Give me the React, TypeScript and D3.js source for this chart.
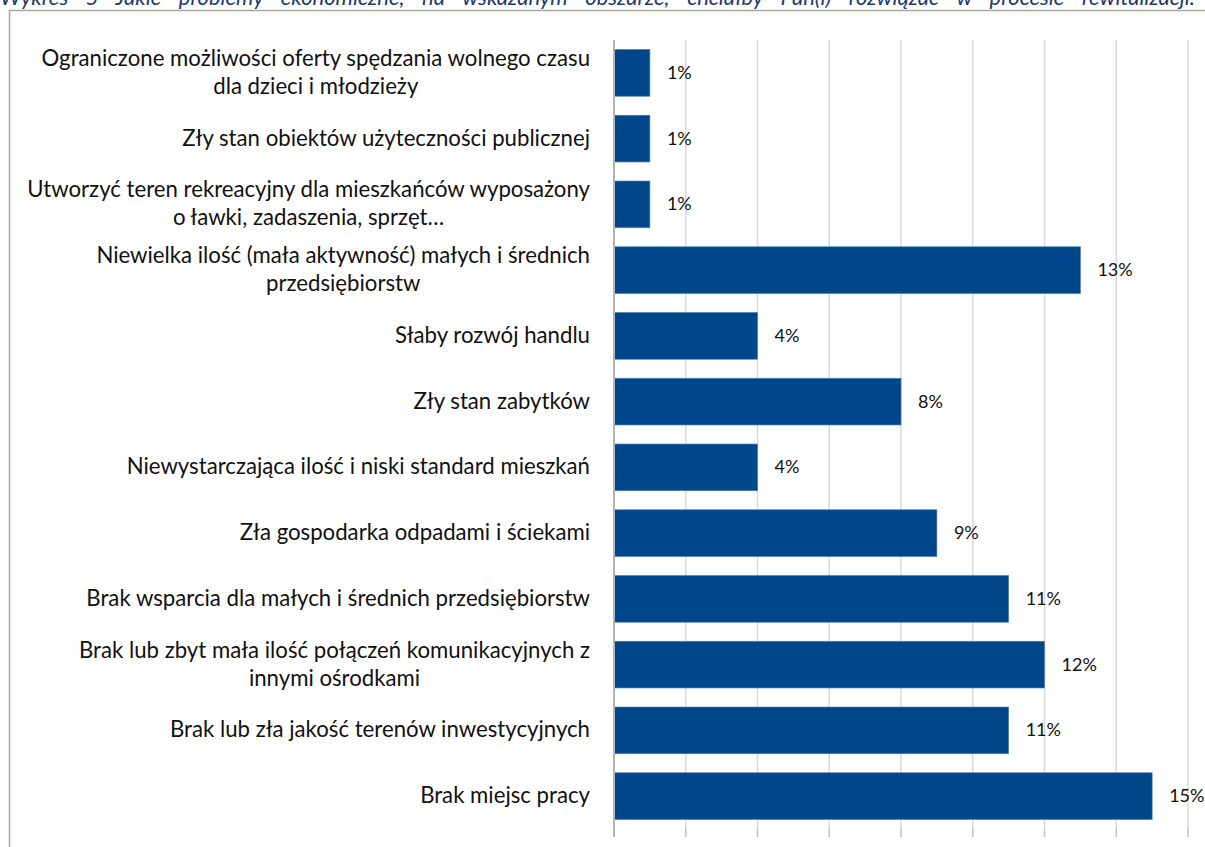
import React, { useEffect, useRef } from 'react';
import * as d3 from 'd3';

const title =
  'Wykres 5 Jakie problemy ekonomiczne, na wskazanym obszarze, chciałby Pan(i) rozwiązać w procesie rewitalizacji.';

// category labels, already split the way the chart wraps them
const categories: string[][] = [
  ['Ograniczone możliwości oferty spędzania wolnego czasu', 'dla dzieci i młodzieży'],
  ['Zły stan obiektów użyteczności publicznej'],
  ['Utworzyć teren rekreacyjny dla mieszkańców wyposażony', 'o ławki, zadaszenia, sprzęt…'],
  ['Niewielka ilość (mała aktywność) małych i średnich', 'przedsiębiorstw'],
  ['Słaby rozwój handlu'],
  ['Zły stan zabytków'],
  ['Niewystarczająca ilość i niski standard mieszkań'],
  ['Zła gospodarka odpadami i ściekami'],
  ['Brak wsparcia dla małych i średnich przedsiębiorstw'],
  ['Brak lub zbyt mała ilość połączeń komunikacyjnych z', 'innymi ośrodkami'],
  ['Brak lub zła jakość terenów inwestycyjnych'],
  ['Brak miejsc pracy'],
];
const values = [1, 1, 1, 13, 4, 8, 4, 9, 11, 12, 11, 15];
const xTicks = [0, 2, 4, 6, 8, 10, 12, 14, 16];

const W = 1205;
const H = 847;
const FONT = 'Lato, Carlito, "Noto Sans", sans-serif';

const App: React.FC = () => {
  const svgRef = useRef<SVGSVGElement>(null);

  useEffect(() => {
    if (!svgRef.current) return;
    const svg = d3.select(svgRef.current);
    svg.selectAll('*').remove();

    const plot = { left: 614, right: 1188, top: 40, bottom: 829 };
    const x = d3.scaleLinear().domain([0, 16]).range([plot.left, plot.right]);
    const y = d3
      .scaleBand<number>()
      .domain(d3.range(values.length))
      .range([plot.top, plot.bottom])
      .paddingInner(0.29)
      .paddingOuter(0.145);

    // title (cut off at the top of the page)
    const t = svg
      .append('text')
      .attr('x', 0)
      .attr('y', 5)
      .style('font-family', FONT)
      .style('font-style', 'italic')
      .style('font-size', '22px')
      .style('fill', '#22386e')
      .text(title);
    const natural = (t.node() as SVGTextElement).getComputedTextLength();
    const gaps = title.split(' ').length - 1;
    t.attr('word-spacing', Math.max(0, (1195 - natural) / gaps));

    // chart frame
    svg
      .append('path')
      .attr('d', `M9.5,${H + 5}V10.5H${W + 5}`)
      .attr('fill', 'none')
      .attr('stroke', '#aaa69b')
      .attr('stroke-width', 1.5);

    // gridlines
    svg
      .append('g')
      .selectAll('line')
      .data(xTicks.slice(1))
      .enter()
      .append('line')
      .attr('x1', (d) => x(d))
      .attr('x2', (d) => x(d))
      .attr('y1', plot.top)
      .attr('y2', plot.bottom)
      .attr('stroke', '#d9d9d9')
      .attr('stroke-width', 1.5);

    // bottom tick marks
    svg
      .append('g')
      .selectAll('line')
      .data(xTicks)
      .enter()
      .append('line')
      .attr('x1', (d) => x(d))
      .attr('x2', (d) => x(d))
      .attr('y1', plot.bottom)
      .attr('y2', plot.bottom + 8)
      .attr('stroke', '#bfbfbf')
      .attr('stroke-width', 1.5);

    // bars
    svg
      .append('g')
      .selectAll('rect')
      .data(values)
      .enter()
      .append('rect')
      .attr('x', x(0))
      .attr('y', (_, i) => y(i)!)
      .attr('width', (d) => x(d) - x(0))
      .attr('height', y.bandwidth())
      .attr('fill', '#00468b')
      .attr('stroke', '#4f7cb0')
      .attr('stroke-width', 0.7);

    // value axis line
    svg
      .append('line')
      .attr('x1', x(0))
      .attr('x2', x(0))
      .attr('y1', plot.top)
      .attr('y2', plot.bottom + 8)
      .attr('stroke', '#b3b3b3')
      .attr('stroke-width', 2);

    // value labels
    svg
      .append('g')
      .selectAll('text')
      .data(values)
      .enter()
      .append('text')
      .attr('x', (d) => x(d) + 17)
      .attr('y', (_, i) => y(i)! + y.bandwidth() / 2 + 6)
      .style('font-family', FONT)
      .style('font-size', '18px')
      .style('fill', '#111')
      .text((d) => `${d}%`);

    // category labels: block right-aligned, lines centred inside it
    const lineH = 28;
    categories.forEach((lines, i) => {
      const g = svg.append('g');
      const texts = lines.map((ln) =>
        g
          .append('text')
          .style('font-family', FONT)
          .style('font-size', '22.2px')
          .style('fill', '#111')
          .attr('text-anchor', 'middle')
          .text(ln)
      );
      const maxW = d3.max(texts, (tx) => (tx.node() as SVGTextElement).getComputedTextLength()) || 0;
      const cy = y(i)! + y.bandwidth() / 2;
      texts.forEach((tx, k) => {
        tx.attr('x', 590 - maxW / 2).attr('y', cy + (k - (lines.length - 1) / 2) * lineH + 7);
      });
    });
  }, []);

  return (
    <svg
      ref={svgRef}
      width={W}
      height={H}
      style={{ position: 'absolute', left: 0, top: 0, background: '#fff' }}
    />
  );
};

export default App;
